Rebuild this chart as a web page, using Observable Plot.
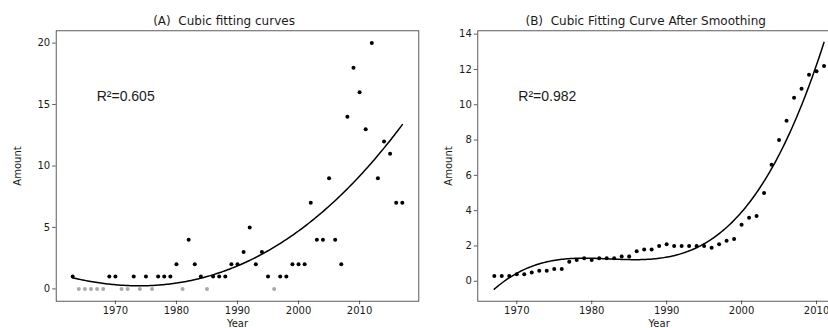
<!DOCTYPE html>
<html><head><meta charset="utf-8">
<script src="https://cdn.jsdelivr.net/npm/d3@7"></script>
<script src="https://cdn.jsdelivr.net/npm/@observablehq/plot@0.6"></script>
<style>
html,body{margin:0;padding:0;background:#fff;}
#wrap{width:828px;height:328px;overflow:hidden;position:relative;background:#fff;}
#wrap svg{position:absolute;top:0;overflow:visible;}
</style></head><body><div id="wrap"></div>
<script>
// Panel A: raw yearly amounts
const yearsA = [1963,1964,1965,1966,1967,1968,1969,1970,1971,1972,1973,1974,1975,1976,1977,1978,1979,1980,1981,1982,1983,1984,1985,1986,1987,1988,1989,1990,1991,1992,1993,1994,1995,1996,1997,1998,1999,2000,2001,2002,2003,2004,2005,2006,2007,2008,2009,2010,2011,2012,2013,2014,2015,2016,2017];
const amountsA = [1,0,0,0,0,0,1,1,0,0,1,0,1,0,1,1,1,2,0,4,2,1,0,1,1,1,2,2,3,5,2,3,1,0,1,1,2,2,2,7,4,4,9,4,2,14,18,16,13,20,9,12,11,7,7];
// Panel B: smoothed amounts
const yearsB = [1967,1968,1969,1970,1971,1972,1973,1974,1975,1976,1977,1978,1979,1980,1981,1982,1983,1984,1985,1986,1987,1988,1989,1990,1991,1992,1993,1994,1995,1996,1997,1998,1999,2000,2001,2002,2003,2004,2005,2006,2007,2008,2009,2010,2011];
const amountsB = [0.3,0.3,0.3,0.4,0.4,0.5,0.6,0.6,0.7,0.7,1.1,1.2,1.3,1.2,1.3,1.3,1.3,1.4,1.4,1.7,1.8,1.8,2.0,2.1,2.0,2.0,2.0,2.0,2.0,1.9,2.1,2.3,2.4,3.2,3.6,3.7,5.0,6.6,8.0,9.1,10.4,10.9,11.7,11.9,12.2];
const titles = ["(A)\u00a0\u00a0Cubic fitting curves", "(B)\u00a0\u00a0Cubic Fitting Curve After Smoothing"];
const r2Labels = ["R\u00b2=0.605", "R\u00b2=0.982"];
const xTicksA = [1970,1980,1990,2000,2010];
const yTicksA = [0,5,10,15,20];
const xTicksB = [1970,1980,1990,2000,2010];
const yTicksB = [0,2,4,6,8,10,12,14];

// least-squares cubic fit
function polyfit(xs, ys, deg) {
  const x0 = d3.mean(xs), n = deg + 1;
  const A = Array.from({length: n}, () => new Array(n).fill(0));
  const b = new Array(n).fill(0);
  xs.forEach((x, k) => {
    const t = x - x0;
    for (let i = 0; i < n; i++) {
      b[i] += ys[k] * Math.pow(t, i);
      for (let j = 0; j < n; j++) A[i][j] += Math.pow(t, i + j);
    }
  });
  for (let i = 0; i < n; i++) {
    let p = i;
    for (let r = i + 1; r < n; r++) if (Math.abs(A[r][i]) > Math.abs(A[p][i])) p = r;
    [A[i], A[p]] = [A[p], A[i]]; [b[i], b[p]] = [b[p], b[i]];
    for (let r = i + 1; r < n; r++) {
      const f = A[r][i] / A[i][i];
      for (let c = i; c < n; c++) A[r][c] -= f * A[i][c];
      b[r] -= f * b[i];
    }
  }
  const c = new Array(n).fill(0);
  for (let i = n - 1; i >= 0; i--) {
    let s = b[i];
    for (let j = i + 1; j < n; j++) s -= A[i][j] * c[j];
    c[i] = s / A[i][i];
  }
  return x => c.reduce((s, ci, i) => s + ci * Math.pow(x - x0, i), 0);
}

function fitLine(xs, ys) {
  const f = polyfit(xs, ys, 3);
  const lo = d3.min(xs), hi = d3.max(xs), out = [];
  for (let i = 0; i <= 200; i++) { const x = lo + (hi - lo) * i / 200; out.push({x, y: f(x)}); }
  return out;
}

function panel({years, amounts, xDomain, yDomain, xTicks, yTicks, title, r2, width, ml, mr, grayZeros, r2dx, ylabelDx}) {
  const pts = years.map((x, i) => ({x, y: amounts[i]}));
  const fit = fitLine(years, amounts);
  return Plot.plot({
    width, height: 328,
    marginLeft: ml, marginRight: mr, marginTop: 30.3, marginBottom: 27.3,
    style: {fontFamily: "DejaVu Sans", fontSize: "10px", color: "#1a1a1a", background: "transparent", overflow: "visible"},
    x: {domain: xDomain},
    y: {domain: yDomain},
    marks: [
      Plot.axisX(xTicks, {tickSize: 3.5, tickPadding: 2.5, tickFormat: d => String(d), label: null, stroke: "#333", strokeWidth: 0.8, fontSize: 10}),
      Plot.axisY(yTicks, {tickSize: 3.5, tickPadding: 2.5, label: null, stroke: "#333", strokeWidth: 0.8, fontSize: 10}),
      Plot.frame({stroke: "#333", strokeWidth: 0.8}),
      Plot.line(fit, {x: "x", y: "y", stroke: "black", strokeWidth: 1.5}),
      Plot.dot(pts, {x: "x", y: "y", r: 2, stroke: null,
        fill: d => (grayZeros && d.y === 0) ? "#aaaaaa" : "black"}),
      Plot.text([title], {frameAnchor: "top", lineAnchor: "bottom", dy: -6, dx: -13.5, fontSize: 12, fill: "#1a1a1a"}),
      Plot.text([r2], {frameAnchor: "top-left", textAnchor: "start", lineAnchor: "bottom", dx: r2dx, dy: 70.2, fontFamily: "Liberation Sans, Arial, sans-serif", fontSize: 14, fill: "#1a1a1a"}),
      Plot.text(["Year"], {frameAnchor: "bottom", lineAnchor: "top", dy: 18.5, fontSize: 10, fill: "#1a1a1a"}),
      Plot.text(["Amount"], {frameAnchor: "left", rotate: -90, textAnchor: "middle", lineAnchor: "middle", dx: ylabelDx, fontSize: 10, fill: "#1a1a1a"})
    ]
  });
}

const wrap = document.getElementById("wrap");
const a = panel({years: yearsA, amounts: amountsA, xDomain: [1960.3, 2019.7], yDomain: [-1, 21],
  xTicks: xTicksA, yTicks: yTicksA, title: titles[0], r2: r2Labels[0], width: 430, ml: 55.7, mr: 11.7,
  grayZeros: true, r2dx: 40.5, ylabelDx: -38.5});
a.style.left = "0px";
wrap.appendChild(a);
const b = panel({years: yearsB, amounts: amountsB, xDomain: [1964.8, 2013.2], yDomain: [-1.13, 14.19],
  xTicks: xTicksB, yTicks: yTicksB, title: titles[1], r2: r2Labels[1], width: 420, ml: 47.3, mr: 10,
  grayZeros: false, r2dx: 40.5, ylabelDx: -29.5});
b.style.left = "430px";
wrap.appendChild(b);
</script>
</body></html>
